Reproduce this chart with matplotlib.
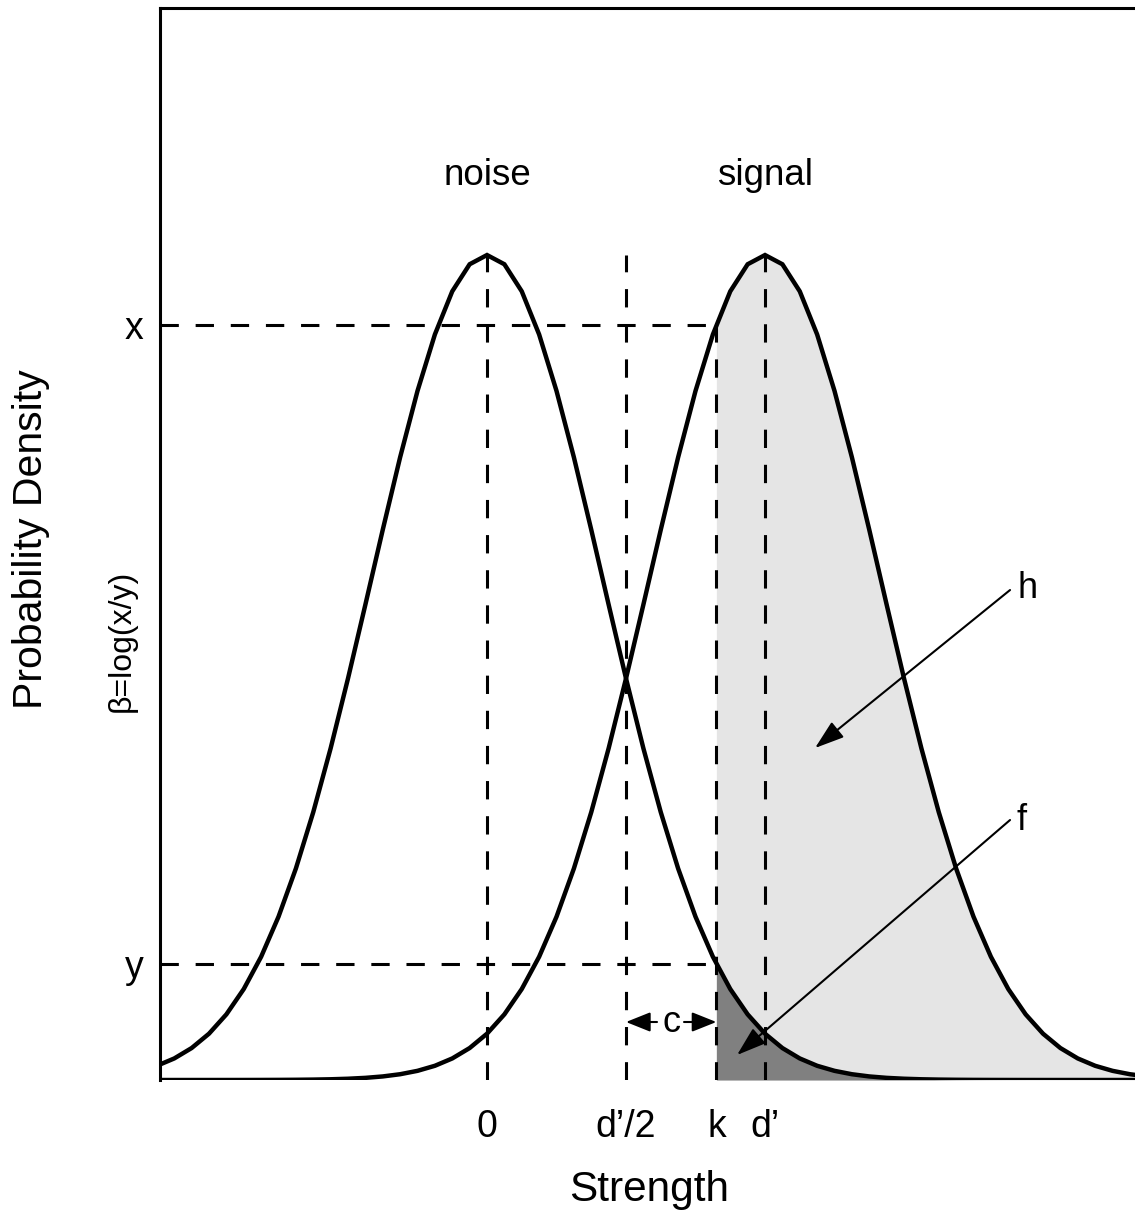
import numpy as np
import matplotlib
matplotlib.use("Agg")
import matplotlib.pyplot as plt

plt.rcParams['font.family'] = ['Liberation Sans', 'DejaVu Sans']

# model parameters
d_prime = 2.4      # separation of signal from noise
k_crit = 1.98      # criterion
x_lo, x_hi = -2.823, 5.594
y_hi = 0.5184

tick_labels = ["0", "d\u2019/2", "k", "d\u2019"]
curve_labels = ["noise", "signal"]

def dens(x, mu):
    return np.exp(-0.5 * (x - mu) ** 2) / np.sqrt(2 * np.pi)

grid = np.arange(-20, 39) * 0.15
noise = dens(grid, 0.0)
signal = dens(grid, d_prime)

x_level = dens(k_crit, d_prime)
y_level = dens(k_crit, 0.0)
peak = dens(0.0, 0.0)

W, H = 1135, 1220
fig = plt.figure(figsize=(W / 100, H / 100), dpi=100)
ax = fig.add_axes([160 / W, 1 - 1080 / H, (W - 160) / W, (1080 - 8) / H])
ax.set_xlim(x_lo, x_hi)
ax.set_ylim(0, y_hi)

# fills
sel = grid > k_crit
fx = np.concatenate([[k_crit], grid[sel]])
ax.fill_between(fx, 0, np.concatenate([[x_level], signal[sel]]), color='#e5e5e5', lw=0, zorder=1)
ax.fill_between(fx, 0, np.concatenate([[y_level], noise[sel]]), color='#808080', lw=0, zorder=2)

dash_kw = dict(color='black', lw=2.2, dashes=(6, 5.5), zorder=3)
ax.plot([0, 0], [0, peak], **dash_kw)
ax.plot([d_prime / 2, d_prime / 2], [0, peak], **dash_kw)
ax.plot([d_prime, d_prime], [0, peak], **dash_kw)
ax.plot([k_crit, k_crit], [0, x_level], **dash_kw)
ax.plot([x_lo, k_crit], [x_level, x_level], **dash_kw)
ax.plot([x_lo, k_crit], [y_level, y_level], **dash_kw)

ax.plot(grid, noise, color='black', lw=3.2, zorder=4, solid_joinstyle='miter')
ax.plot(grid, signal, color='black', lw=3.2, zorder=4, solid_joinstyle='miter')

# curve names
ax.text(0, 0.4375, curve_labels[0], ha='center', va='center', fontsize=26.5)
ax.text(d_prime, 0.4375, curve_labels[1], ha='center', va='center', fontsize=26.5)

# ticks
ax.set_xticks([0, d_prime / 2, k_crit, d_prime])
ax.set_xticklabels(tick_labels, fontsize=27)
ax.set_yticks([x_level, y_level])
ax.set_yticklabels(['x', 'y'], fontsize=27)
ax.tick_params(axis='x', length=0, pad=21)
ax.tick_params(axis='y', length=0, pad=12)

for s in ['right', 'bottom']:
    ax.spines[s].set_visible(False)
for s in ['left', 'top']:
    ax.spines[s].set_linewidth(2.2)

fig.text(649 / W, 1 - 1190 / H, 'Strength', ha='center', va='center', fontsize=30.5)
fig.text(31 / W, 1 - 539 / H, 'Probability Density', ha='center', va='center',
         rotation=90, fontsize=29.5)
fig.text(122 / W, 1 - 641 / H, '\u03b2=log(x/y)', ha='center', va='center',
         rotation=90, fontsize=23)

# arrows
def px(xp, yp):
    return ((xp - 487) / 115.83, (1080 - yp) / 2068.0)

big = dict(arrowstyle='-|>,head_length=0.9,head_width=0.3', color='black', lw=1.5,
           mutation_scale=20, shrinkA=0, shrinkB=0)
ax.annotate('', xy=px(815, 748), xytext=px(1010, 590), arrowprops=big, zorder=6)
ax.annotate('', xy=px(737, 1055), xytext=px(1010, 820), arrowprops=big, zorder=6)
ax.text(*px(1028, 588), 'h', ha='center', va='center', fontsize=26)
ax.text(*px(1022, 820), 'f', ha='center', va='center', fontsize=26)

small = dict(arrowstyle='-|>,head_length=0.75,head_width=0.3', color='black', lw=1.5,
             mutation_scale=20, shrinkA=0, shrinkB=0)
cy = (1080 - 1022) / 2068.0
ax.annotate('', xy=(d_prime / 2, cy), xytext=((657 - 487) / 115.83, cy), arrowprops=small, zorder=6)
ax.annotate('', xy=(k_crit, cy), xytext=((684 - 487) / 115.83, cy), arrowprops=small, zorder=6)
ax.text((d_prime / 2 + k_crit) / 2, cy, 'c', ha='center', va='center', fontsize=26)

fig.savefig('out.png', dpi=100)
